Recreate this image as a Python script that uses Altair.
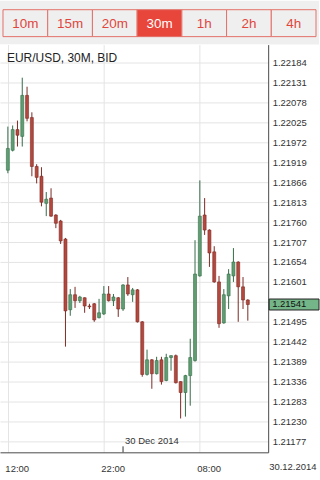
import altair as alt
import pandas as pd

# ---------------- data ----------------
tabs = ["10m", "15m", "20m", "30m", "1h", "2h", "4h"]
selected_tab = "30m"

symbol_title = "EUR/USD, 30M, BID"
start_time = "2014-12-29 12:00"

opens = [1.21898, 1.21951, 1.22006, 1.21988, 1.22097, 1.22038, 1.21908, 1.21882, 1.21810, 1.21824,
         1.21779, 1.21763, 1.21715, 1.21527, 1.21567, 1.21551, 1.21559, 1.21537, 1.21543, 1.21506,
         1.21516, 1.21569, 1.21551, 1.21559, 1.21529, 1.21593, 1.21567, 1.21580, 1.21495, 1.21355,
         1.21394, 1.21357, 1.21394, 1.21339, 1.21400, 1.21405, 1.21336, 1.21307, 1.21352, 1.21392,
         1.21617, 1.21779, 1.21739, 1.21681, 1.21601, 1.21492, 1.21564, 1.21617, 1.21654, 1.21588,
         1.21553]
highs = [1.22014, 1.22017, 1.22030, 1.22144, 1.22120, 1.22052, 1.21914, 1.21906, 1.21840, 1.21850,
         1.21781, 1.21766, 1.21718, 1.21582, 1.21588, 1.21564, 1.21560, 1.21543, 1.21545, 1.21556,
         1.21590, 1.21590, 1.21569, 1.21561, 1.21595, 1.21614, 1.21585, 1.21582, 1.21497, 1.21421,
         1.21396, 1.21402, 1.21402, 1.21410, 1.21406, 1.21408, 1.21337, 1.21354, 1.21450, 1.21712,
         1.21871, 1.21824, 1.21741, 1.21696, 1.21617, 1.21582, 1.21635, 1.21691, 1.21656, 1.21614,
         1.21555]
lows = [1.21890, 1.21948, 1.21961, 1.21961, 1.22028, 1.21882, 1.21863, 1.21802, 1.21776, 1.21774,
        1.21744, 1.21702, 1.21429, 1.21511, 1.21532, 1.21545, 1.21519, 1.21529, 1.21495, 1.21504,
        1.21513, 1.21549, 1.21537, 1.21508, 1.21524, 1.21564, 1.21548, 1.21493, 1.21349, 1.21352,
        1.21317, 1.21355, 1.21328, 1.21337, 1.21365, 1.21331, 1.21238, 1.21243, 1.21272, 1.21389,
        1.21615, 1.21726, 1.21641, 1.21599, 1.21479, 1.21490, 1.21529, 1.21601, 1.21495, 1.21529,
        1.21498]
closes = [1.21956, 1.22006, 1.21991, 1.22097, 1.22036, 1.21908, 1.21879, 1.21813, 1.21821, 1.21776,
          1.21757, 1.21710, 1.21524, 1.21567, 1.21551, 1.21561, 1.21537, 1.21535, 1.21500, 1.21519,
          1.21569, 1.21551, 1.21561, 1.21529, 1.21593, 1.21569, 1.21580, 1.21495, 1.21355, 1.21394,
          1.21357, 1.21392, 1.21336, 1.21400, 1.21405, 1.21333, 1.21307, 1.21352, 1.21400, 1.21622,
          1.21776, 1.21739, 1.21678, 1.21601, 1.21490, 1.21567, 1.21622, 1.21654, 1.21588, 1.21553,
          1.21541]

y_ticks = [1.22184, 1.22131, 1.22078, 1.22025, 1.21972, 1.21919, 1.21866, 1.21813, 1.21760, 1.21707,
           1.21654, 1.21601, 1.21548, 1.21495, 1.21442, 1.21389, 1.21336, 1.21283, 1.21230, 1.21177]
y_hidden_tick = 1.21548          # label covered by the current-price box
y_domain = [1.21148, 1.22232]

x_tick_idx = [0, 20, 40]
x_tick_labels = ["12:00", "22:00", "08:00"]
x_domain = [-0.6, 53.2]

day_marker_idx = 24
day_marker_label = "30 Dec 2014"
last_date_label = "30.12.2014"

# ---------------- styles ----------------
FONT = "Liberation Sans"
GREEN, GREEN_D = "#5e9e72", "#356b48"
RED, RED_D = "#b5473d", "#7a2b25"
GRID = "#e4e4e4"
AXIS = "#4a4a4a"
TAB_RED = "#e0463c"

# ---------------- tab bar ----------------
tab_df = pd.DataFrame({"tab": tabs})
tab_base = alt.Chart(tab_df).encode(
    x=alt.X("tab:N", sort=tabs, axis=None,
            scale=alt.Scale(paddingInner=0, paddingOuter=0.0669))
)
tab_rect = tab_base.mark_rect(stroke="#e27068", strokeWidth=1).encode(
    y=alt.value(9), y2=alt.value(36),
    fill=alt.condition(alt.datum.tab == selected_tab, alt.value("#e8453b"), alt.value("#efefef")),
)
tab_text = tab_base.mark_text(font=FONT, fontSize=13.5, baseline="middle").encode(
    y=alt.value(23),
    text="tab:N",
    color=alt.condition(alt.datum.tab == selected_tab, alt.value("#ffffff"), alt.value(TAB_RED)),
)
tab_chart = alt.layer(tab_rect, tab_text).properties(
    width=320, height=44,
    view=alt.ViewBackground(fill="#efefef", strokeWidth=0),
)

# ---------------- candles ----------------
times = pd.date_range(start_time, periods=len(opens), freq="30min")
df = pd.DataFrame({
    "idx": list(range(len(opens))),
    "time": times,
    "open": opens, "high": highs, "low": lows, "close": closes,
})
df["dir"] = ["up" if c >= o else "down" for o, c in zip(opens, closes)]

x_label_expr = " : ".join(
    f"datum.value == {i} ? '{l}'" for i, l in zip(x_tick_idx[:-1], x_tick_labels[:-1])
) + f" : '{x_tick_labels[-1]}'"
y_label_expr = f"abs(datum.value - {y_hidden_tick}) < 0.000001 ? '' : format(datum.value, '.5f')"

x_axis = alt.Axis(values=x_tick_idx, labelExpr=x_label_expr, grid=True, gridColor=GRID,
                  ticks=False, domainColor=AXIS, labelAlign="left", labelFlush=False,
                  labelOffset=-3, labelPadding=11, labelFontSize=9.5, labelColor="#333",
                  labelFont=FONT, title=None)
y_axis = alt.Axis(orient="right", values=y_ticks, labelExpr=y_label_expr, grid=True,
                  gridColor=GRID, ticks=False, domainColor=AXIS, labelPadding=4,
                  labelFontSize=9.5, labelColor="#333", labelFont=FONT, title=None)

xs = alt.Scale(domain=x_domain, nice=False, zero=False)
ys = alt.Scale(domain=y_domain, nice=False, zero=False)

fill_scale = alt.Scale(domain=["up", "down"], range=[GREEN, RED])
stroke_scale = alt.Scale(domain=["up", "down"], range=[GREEN_D, RED_D])

base = alt.Chart(df)
wicks = base.mark_rule(strokeWidth=1).encode(
    x=alt.X("idx:Q", scale=xs, axis=x_axis),
    y=alt.Y("low:Q", scale=ys, axis=y_axis),
    y2="high:Q",
    stroke=alt.Stroke("dir:N", scale=stroke_scale, legend=None),
)
bodies = base.mark_bar(size=3, strokeWidth=0.6).encode(
    x=alt.X("idx:Q", scale=xs, axis=x_axis),
    y=alt.Y("open:Q", scale=ys, axis=y_axis),
    y2="close:Q",
    fill=alt.Fill("dir:N", scale=fill_scale, legend=None),
    stroke=alt.Stroke("dir:N", scale=stroke_scale, legend=None),
)

# title inside plot
title_df = pd.DataFrame({"t": [symbol_title]})
title_txt = alt.Chart(title_df).mark_text(font=FONT, fontSize=12, align="left",
                                          baseline="middle", color="#222").encode(
    x=alt.value(7), y=alt.value(13), text="t:N")

# day separator
day_df = pd.DataFrame({"idx": [day_marker_idx], "lab": [day_marker_label]})
day_tick = alt.Chart(day_df).mark_rule(color="#333", strokeWidth=1).encode(
    x=alt.X("idx:Q", scale=xs, axis=x_axis), y=alt.value(403), y2=alt.value(409))
day_txt = alt.Chart(day_df).mark_text(font=FONT, fontSize=9.5, align="left", baseline="middle",
                                      color="#333", dx=2).encode(
    x=alt.X("idx:Q", scale=xs, axis=x_axis), y=alt.value(398), text="lab:N")

# last date label under the price axis
date_df = pd.DataFrame({"lab": [last_date_label]})
date_txt = alt.Chart(date_df).mark_text(font=FONT, fontSize=9.5, align="left", baseline="middle",
                                        color="#333").encode(
    x=alt.value(270), y=alt.value(424), text="lab:N")

# current price box
price_df = pd.DataFrame({"price": [closes[-1]], "lab": [f"{closes[-1]:.5f}"]})
price_box = alt.Chart(price_df).mark_rect(height=11, fill="#74b688", stroke="#222",
                                          strokeWidth=1).encode(
    x=alt.value(270), x2=alt.value(320),
    y=alt.Y("price:Q", scale=ys, axis=y_axis))
price_txt = alt.Chart(price_df).mark_text(font=FONT, fontSize=9.5, align="left",
                                          baseline="middle", color="#111").encode(
    x=alt.value(273), y=alt.Y("price:Q", scale=ys, axis=y_axis), text="lab:N")

main = alt.layer(wicks, bodies, title_txt, day_tick, day_txt, date_txt,
                 price_box, price_txt).properties(
    width=269, height=409,
    view=alt.ViewBackground(fill="#ffffff", strokeWidth=0),
)

chart = alt.vconcat(tab_chart, main, spacing=0).properties(
    padding=0, background="#ffffff"
).configure_view(strokeWidth=0).configure_text(font=FONT)

chart.save("out.html", embed_options={"renderer": "svg", "actions": False})
